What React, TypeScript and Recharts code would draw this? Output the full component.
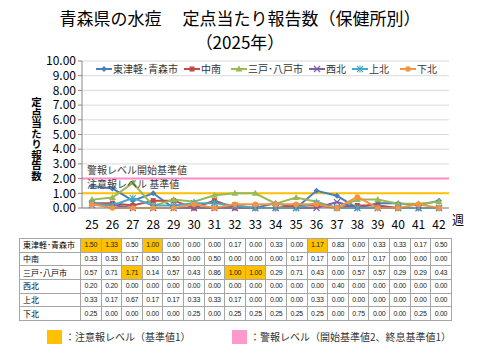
import React from "react";
import { CartesianGrid, Line, LineChart, ReferenceLine, XAxis, YAxis } from "recharts";

const weeks = ["25", "26", "27", "28", "29", "30", "31", "32", "33", "34", "35", "36", "37", "38", "39", "40", "41", "42"];
const yTicks = [0, 1, 2, 3, 4, 5, 6, 7, 8, 9, 10];

const higashiTsugaru = [1.5, 1.33, 0.5, 1.0, 0, 0, 0, 0.17, 0, 0.33, 0, 1.17, 0.83, 0, 0.33, 0.33, 0.17, 0.5];
const chunan = [0.33, 0.33, 0.17, 0.5, 0.5, 0, 0.5, 0, 0, 0, 0.17, 0.17, 0, 0.17, 0.17, 0, 0, 0];
const sannohe = [0.57, 0.71, 1.71, 0.14, 0.57, 0.43, 0.86, 1.0, 1.0, 0.29, 0.71, 0.43, 0, 0.57, 0.57, 0.29, 0.29, 0.43];
const seihoku = [0.2, 0.2, 0, 0, 0, 0, 0, 0, 0, 0, 0, 0, 0.4, 0, 0, 0, 0, 0];
const kamikita = [0.33, 0.17, 0.67, 0.17, 0.17, 0.33, 0.33, 0.17, 0, 0, 0, 0.33, 0, 0, 0, 0, 0, 0];
const shimokita = [0.25, 0, 0, 0, 0, 0.25, 0, 0.25, 0.25, 0.25, 0.25, 0.25, 0, 0.75, 0, 0, 0.25, 0];

const series = [
  { key: "s1", name: "東津軽･青森市", values: higashiTsugaru, color: "#4a7ebb", shape: "diamond" },
  { key: "s2", name: "中南", values: chunan, color: "#be4b48", shape: "square" },
  { key: "s3", name: "三戸･八戸市", values: sannohe, color: "#98b954", shape: "triangle" },
  { key: "s4", name: "西北", values: seihoku, color: "#7d60a0", shape: "cross" },
  { key: "s5", name: "上北", values: kamikita, color: "#46aac5", shape: "star" },
  { key: "s6", name: "下北", values: shimokita, color: "#f69240", shape: "circle" },
];

const data = weeks.map((w, i) => {
  const row: any = { week: w };
  series.forEach((s) => (row[s.key] = s.values[i]));
  return row;
});

const FONT = "'Noto Sans CJK JP', 'Liberation Sans', sans-serif";

function Marker({ shape, cx, cy, color }: { shape: string; cx: number; cy: number; color: string }) {
  if (cx == null || cy == null) return null;
  switch (shape) {
    case "diamond":
      return <polygon points={`${cx},${cy - 3} ${cx + 3},${cy} ${cx},${cy + 3} ${cx - 3},${cy}`} fill={color} />;
    case "square":
      return <rect x={cx - 2.5} y={cy - 2.5} width={5} height={5} fill={color} />;
    case "triangle":
      return <polygon points={`${cx},${cy - 3.5} ${cx + 3.5},${cy + 2.5} ${cx - 3.5},${cy + 2.5}`} fill={color} />;
    case "cross":
      return (
        <g stroke={color} strokeWidth={1.2}>
          <line x1={cx - 3} y1={cy - 3} x2={cx + 3} y2={cy + 3} />
          <line x1={cx - 3} y1={cy + 3} x2={cx + 3} y2={cy - 3} />
        </g>
      );
    case "star":
      return (
        <g stroke={color} strokeWidth={1.1}>
          <line x1={cx - 3} y1={cy - 3} x2={cx + 3} y2={cy + 3} />
          <line x1={cx - 3} y1={cy + 3} x2={cx + 3} y2={cy - 3} />
          <line x1={cx} y1={cy - 3.5} x2={cx} y2={cy + 3.5} />
        </g>
      );
    default:
      return <circle cx={cx} cy={cy} r={2.8} fill={color} />;
  }
}

const legendWidths = [88, 47, 78, 43, 48, 40];

function TopLegend() {
  return (
    <div style={{ display: "flex", fontFamily: FONT, fontSize: 10, color: "#333", lineHeight: "12px" }}>
      {series.map((s, i) => (
        <div key={s.key} style={{ display: "flex", alignItems: "center", width: legendWidths[i] }}>
          <svg width={16} height={10}>
            <line x1={0} y1={5} x2={16} y2={5} stroke={s.color} strokeWidth={2} />
            <Marker shape={s.shape} cx={8} cy={5} color={s.color} />
          </svg>
          <span style={{ marginLeft: 1 }}>{s.name}</span>
        </div>
      ))}
    </div>
  );
}

const cellBorder = "1px solid #a6a6a6";

export default function App() {
  return (
    <div style={{ position: "fixed", left: 0, top: 0, width: 480, height: 360, background: "#fff", fontFamily: FONT }}>
      <div style={{ position: "absolute", top: 6, left: 0, width: 480, textAlign: "center", fontSize: 17, lineHeight: "24px", color: "#000" }}>
        青森県の水痘　 定点当たり報告数（保健所別）
        <br />
        （2025年）
      </div>
      <div
        style={{
          position: "absolute",
          left: 30,
          top: 97,
          writingMode: "vertical-rl",
          textOrientation: "upright",
          fontSize: 10.5,
          fontWeight: "bold",
          lineHeight: "12px",
          color: "#000",
        }}
      >
        定点当たり報告数
      </div>
      <div style={{ position: "absolute", left: 0, top: 0 }}>
        <LineChart width={480} height={240} data={data} margin={{ top: 61, right: 31, left: 2, bottom: 2 }}>
          <CartesianGrid vertical={false} stroke="#d9d9d9" />
          <XAxis
            dataKey="week"
            padding={{ left: 10, right: 10 }}
            interval={0}
            axisLine={{ stroke: "#868686" }}
            tickLine={false}
            tick={{ fontSize: 12, fill: "#000", fontFamily: FONT }}
            height={30}
            dy={4}
          />
          <YAxis
            width={80}
            domain={[0, 10]}
            ticks={yTicks}
            interval={0}
            tickFormatter={(v: number) => v.toFixed(2)}
            axisLine={{ stroke: "#868686" }}
            tickLine={{ stroke: "#868686" }}
            tickSize={4}
            tick={{ fontSize: 12, fill: "#000", fontFamily: FONT }}
          />
          <ReferenceLine
            y={2}
            stroke="#ff8cc6"
            strokeWidth={2}
            label={{ value: "警報レベル開始基準値", position: "insideTopLeft", fill: "#404040", fontSize: 10, dx: 0, dy: -17, fontFamily: FONT }}
          />
          <ReferenceLine
            y={1}
            stroke="#ffc000"
            strokeWidth={2}
            label={{ value: "注意報レベル 基準値", position: "insideTopLeft", fill: "#404040", fontSize: 10, dx: 0, dy: -17, fontFamily: FONT }}
          />
          {series.map((s) => (
            <Line
              key={s.key}
              dataKey={s.key}
              name={s.name}
              stroke={s.color}
              strokeWidth={2}
              type="linear"
              isAnimationActive={false}
              dot={(p: any) => <Marker key={`${s.key}-${p.index}`} shape={s.shape} cx={p.cx} cy={p.cy} color={s.color} />}
            />
          ))}
        </LineChart>
      </div>
      <div style={{ position: "absolute", left: 96, top: 63 }}>
        <TopLegend />
      </div>
      <div style={{ position: "absolute", left: 452, top: 211, fontSize: 12, color: "#000" }}>週</div>
      <table
        style={{
          position: "absolute",
          left: 19,
          top: 238,
          borderCollapse: "collapse",
          tableLayout: "fixed",
          width: 432,
          fontFamily: "'Liberation Sans', Arial, sans-serif",
          border: "1px solid #7f7f7f",
        }}
      >
        <colgroup>
          <col style={{ width: 61 }} />
          {weeks.map((w) => (
            <col key={w} style={{ width: 20.6 }} />
          ))}
        </colgroup>
        <tbody>
          {series.map((s) => (
            <tr key={s.key} style={{ height: 13.7 }}>
              <td style={{ border: cellBorder, fontSize: 8, fontFamily: FONT, padding: "0 0 0 3px", lineHeight: "12px", whiteSpace: "nowrap" }}>{s.name}</td>
              {s.values.map((v, i) => (
                <td
                  key={i}
                  style={{
                    border: cellBorder,
                    fontSize: 7,
                    padding: 0,
                    textAlign: "center",
                    lineHeight: "12px",
                    letterSpacing: -0.3,
                    color: "#222",
                    background: v >= 1 ? "#ffc000" : "#fff",
                  }}
                >
                  {v.toFixed(2)}
                </td>
              ))}
            </tr>
          ))}
        </tbody>
      </table>
      <div style={{ position: "absolute", left: 47, top: 330, width: 15, height: 14, background: "#ffc000" }} />
      <div style={{ position: "absolute", left: 65, top: 329, fontSize: 10, color: "#333", lineHeight: "16px" }}>：注意報レベル（基準値1）</div>
      <div style={{ position: "absolute", left: 232, top: 330, width: 15, height: 14, background: "#ff99cc" }} />
      <div style={{ position: "absolute", left: 250, top: 329, fontSize: 10, color: "#333", lineHeight: "16px" }}>：警報レベル（開始基準値2、終息基準値1）</div>
    </div>
  );
}
